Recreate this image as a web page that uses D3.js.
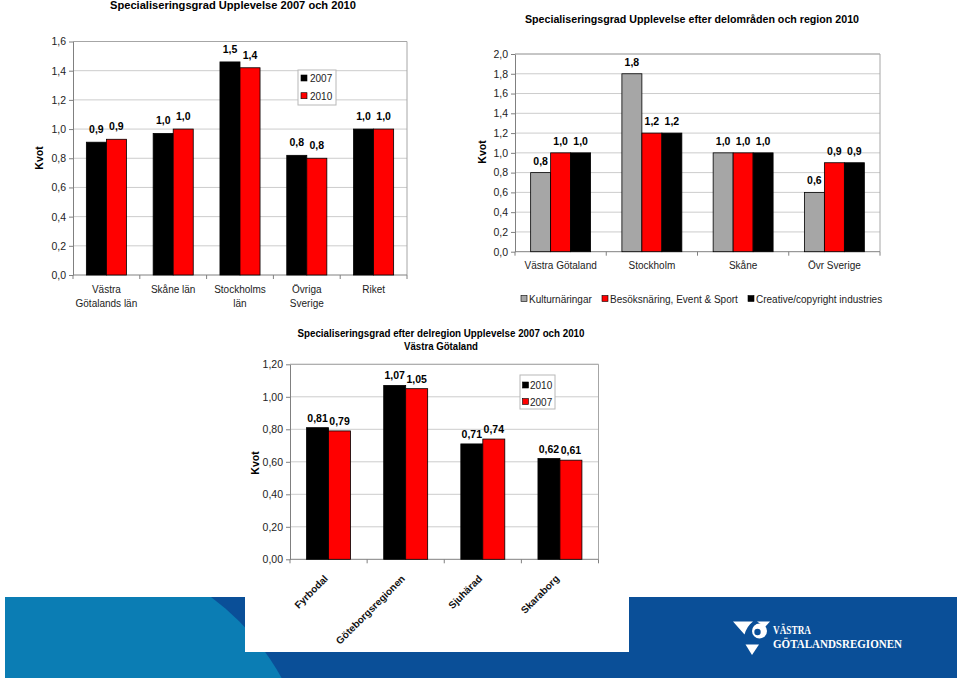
<!DOCTYPE html>
<html><head><meta charset="utf-8">
<script src="https://cdn.jsdelivr.net/npm/d3@7"></script>
<style>body{margin:0;background:#fff} svg{display:block;font-family:"Liberation Sans",Arial,sans-serif}</style>
</head><body><svg id="c" width="960" height="681"></svg>
<script>
// ---------- DATA ----------
const cats1 = ["Västra Götalands län", "Skåne län", "Stockholms län", "Övriga Sverige", "Riket"];
const catLines1 = [["Västra", "Götalands län"], ["Skåne län"], ["Stockholms", "län"], ["Övriga", "Sverige"], ["Riket"]];
const series1 = ["2007", "2010"];
const vals1_2007 = [0.91, 0.97, 1.46, 0.82, 1.00];
const vals1_2010 = [0.93, 1.00, 1.42, 0.80, 1.00];
const ticks1 = [0, 0.2, 0.4, 0.6, 0.8, 1.0, 1.2, 1.4, 1.6];

const cats2 = ["Västra Götaland", "Stockholm", "Skåne", "Övr Sverige"];
const series2 = ["Kulturnäringar", "Besöksnäring, Event & Sport", "Creative/copyright industries"];
const vals2_kultur = [0.8, 1.8, 1.0, 0.6];
const vals2_besok = [1.0, 1.2, 1.0, 0.9];
const vals2_creative = [1.0, 1.2, 1.0, 0.9];
const ticks2 = [0, 0.2, 0.4, 0.6, 0.8, 1.0, 1.2, 1.4, 1.6, 1.8, 2.0];

const cats3 = ["Fyrbodal", "Göteborgsregionen", "Sjuhärad", "Skaraborg"];
const series3 = ["2010", "2007"];
const vals3_2010 = [0.81, 1.07, 0.71, 0.62];
const vals3_2007 = [0.79, 1.05, 0.74, 0.61];
const ticks3 = [0, 0.2, 0.4, 0.6, 0.8, 1.0, 1.2];

const title1 = "Specialiseringsgrad Upplevelse 2007 och 2010";
const title2 = "Specialiseringsgrad Upplevelse efter delområden och region 2010";
const title3 = ["Specialiseringsgrad efter delregion Upplevelse 2007 och 2010", "Västra Götaland"];
const yTitle = "Kvot";

// ---------- DRAWING ----------
const FONT = '"Liberation Sans", Arial, sans-serif';
const svg = d3.select("#c");
const comma1 = v => d3.format(".1f")(v).replace(".", ",");
const comma2 = v => d3.format(".2f")(v).replace(".", ",");

// background band + logo
const band = svg.append("g");
band.append("clipPath").attr("id", "bandclip").append("rect").attr("x", 5).attr("y", 597).attr("width", 952).attr("height", 81);
band.append("rect").attr("x", 5).attr("y", 597).attr("width", 952).attr("height", 81).attr("fill", "#0a4f98");
band.append("circle").attr("cx", 60).attr("cy", 800).attr("r", 253).attr("fill", "#0b7db4").attr("clip-path", "url(#bandclip)");
band.append("rect").attr("x", 245).attr("y", 320).attr("width", 384).attr("height", 332).attr("fill", "#fff");

// logo
const logo = svg.append("g").attr("fill", "#fff");
logo.append("path").attr("d", "M733,621.5 L753,621.5 Q747,626 744.5,634.5 Z");
logo.append("path").attr("d", "M757,621.5 L770,621.5 L765,627 Z");
logo.append("circle").attr("cx", 759.5).attr("cy", 631).attr("r", 7.5);
logo.append("circle").attr("cx", 757.5).attr("cy", 632).attr("r", 3.2).attr("fill", "#0a4f98");
logo.append("path").attr("d", "M745.5,644.5 L759,644.5 L752,655 Z");
logo.append("text").attr("x", 773).attr("y", 634).attr("font-family", '"Liberation Serif", serif').attr("font-size", 11.5)
  .attr("font-weight", "bold").attr("textLength", 38).attr("lengthAdjust", "spacingAndGlyphs").text("VÄSTRA");
logo.append("text").attr("x", 773).attr("y", 648).attr("font-family", '"Liberation Serif", serif').attr("font-size", 11.5)
  .attr("font-weight", "bold").attr("textLength", 129).attr("lengthAdjust", "spacingAndGlyphs").text("GÖTALANDSREGIONEN");

function drawChart(o) {
  const g = svg.append("g");
  const x = d3.scaleBand().domain(o.cats).range([o.left, o.right]).paddingInner(o.pad).paddingOuter(o.pad / 2);
  const xs = d3.scaleBand().domain(o.series).range([0, x.bandwidth()]);
  const y = d3.scaleLinear().domain([0, o.ticks[o.ticks.length - 1]]).range([o.bottom, o.top]);

  g.append("g").selectAll("line").data(o.ticks.filter(t => t > 0)).join("line")
    .attr("x1", o.left).attr("x2", o.right).attr("y1", d => y(d)).attr("y2", d => y(d))
    .attr("stroke", "#cccccc");
  g.append("path").attr("d", `M${o.left},${o.top}H${o.right}V${o.bottom}`).attr("fill", "none").attr("stroke", "#a6a6a6");

  const ya = g.append("g").attr("transform", `translate(${o.left},0)`)
    .call(d3.axisLeft(y).tickValues(o.ticks).tickFormat(o.tfmt).tickSize(4).tickSizeOuter(0).tickPadding(3));
  ya.attr("font-family", FONT);
  ya.select(".domain").attr("stroke", "#808080");
  ya.selectAll(".tick line").attr("stroke", "#808080");
  ya.selectAll(".tick text").attr("font-size", 10.5).attr("fill", "#222");

  g.append("line").attr("x1", o.left).attr("x2", o.right).attr("y1", o.bottom).attr("y2", o.bottom).attr("stroke", "#808080");
  const bounds = o.cats.map(c => x(c) - x.step() * o.pad / 2).concat([o.right]);
  g.append("g").selectAll("line").data(bounds).join("line")
    .attr("x1", d => d).attr("x2", d => d).attr("y1", o.bottom).attr("y2", o.bottom + 4).attr("stroke", "#808080");

  o.series.forEach((s, i) => {
    const data = o.cats.map((c, j) => ({ c, v: o.values[i][j] }));
    g.append("g").selectAll("rect").data(data).join("rect")
      .attr("x", d => x(d.c) + xs(s)).attr("width", xs.bandwidth())
      .attr("y", d => y(d.v)).attr("height", d => y(0) - y(d.v))
      .attr("fill", o.colors[i]).attr("stroke", "#000").attr("stroke-width", 0.8);
    g.append("g").selectAll("text").data(data).join("text")
      .attr("x", d => x(d.c) + xs(s) + xs.bandwidth() / 2).attr("y", d => y(d.v) - o.labOff)
      .attr("text-anchor", "middle").attr("font-size", 10.5).attr("font-weight", "bold").attr("fill", "#000")
      .text(d => o.lfmt(d.v));
  });

  g.append("text").attr("transform", `translate(${o.kvotX},${o.kvotY}) rotate(-90)`)
    .attr("text-anchor", "middle").attr("font-size", 10.5).attr("font-weight", "bold").text(yTitle);
  return { g, x, y, xs };
}

// ---------- Chart 1 ----------
const c1 = drawChart({
  cats: cats1, series: series1, values: [vals1_2007, vals1_2010], colors: ["#000000", "#ff0000"],
  left: 73, right: 407, top: 41.5, bottom: 275, pad: 0.4, ticks: ticks1,
  tfmt: comma1, lfmt: comma1, labOff: 9, kvotX: 43, kvotY: 158
});
c1.g.append("g").selectAll("text").data(cats1).join("text")
  .attr("text-anchor", "middle").attr("font-size", 10).attr("fill", "#222")
  .each(function (c, i) {
    d3.select(this).selectAll("tspan").data(catLines1[i]).join("tspan")
      .attr("x", c1.x(c) + c1.x.bandwidth() / 2).attr("y", (d, k) => 275 + 18 + k * 13.5).text(d => d);
  });
svg.append("text").attr("x", 233).attr("y", 9).attr("text-anchor", "middle").attr("font-size", 11)
  .attr("font-weight", "bold").attr("textLength", 246).attr("lengthAdjust", "spacingAndGlyphs").text(title1);
// legend 1
const lg1 = svg.append("g");
lg1.append("rect").attr("x", 298).attr("y", 70).attr("width", 38).attr("height", 35).attr("fill", "#fff").attr("stroke", "#b8b8b8");
lg1.selectAll("g").data(series1).join("g").each(function (s, i) {
  const gg = d3.select(this);
  gg.append("rect").attr("x", 301).attr("y", 75 + i * 17.7).attr("width", 6).attr("height", 6)
    .attr("fill", ["#000000", "#ff0000"][i]).attr("stroke", "#000").attr("stroke-width", 0.6);
  gg.append("text").attr("x", 310).attr("y", 82 + i * 17.7).attr("font-size", 10).attr("fill", "#222").text(s);
});

// ---------- Chart 2 ----------
const c2 = drawChart({
  cats: cats2, series: series2, values: [vals2_kultur, vals2_besok, vals2_creative],
  colors: ["#a6a6a6", "#ff0000", "#000000"],
  left: 515, right: 880, top: 54, bottom: 251.7, pad: 0.343, ticks: ticks2,
  tfmt: comma1, lfmt: comma1, labOff: 8, kvotX: 486, kvotY: 152
});
c2.g.append("g").selectAll("text").data(cats2).join("text")
  .attr("x", c => c2.x(c) + c2.x.bandwidth() / 2).attr("y", 251.7 + 17.6)
  .attr("text-anchor", "middle").attr("font-size", 10).attr("fill", "#222").text(c => c);
svg.append("text").attr("x", 692).attr("y", 23).attr("text-anchor", "middle").attr("font-size", 11)
  .attr("font-weight", "bold").attr("textLength", 334).attr("lengthAdjust", "spacingAndGlyphs").text(title2);
const lg2x = [521, 602, 748];
const lg2 = svg.append("g");
series2.forEach((s, i) => {
  lg2.append("rect").attr("x", lg2x[i]).attr("y", 295.5).attr("width", 6).attr("height", 6)
    .attr("fill", ["#a6a6a6", "#ff0000", "#000000"][i]).attr("stroke", "#000").attr("stroke-width", 0.6);
  lg2.append("text").attr("x", lg2x[i] + 8).attr("y", 302.5).attr("font-size", 10).attr("fill", "#222").text(s);
});

// ---------- Chart 3 ----------
const c3 = drawChart({
  cats: cats3, series: series3, values: [vals3_2010, vals3_2007], colors: ["#000000", "#ff0000"],
  left: 290, right: 598.5, top: 364.3, bottom: 559.3, pad: 0.43, ticks: ticks3,
  tfmt: comma2, lfmt: comma2, labOff: 6, kvotX: 259, kvotY: 463
});
c3.g.append("g").selectAll("text").data(cats3).join("text")
  .attr("transform", c => `translate(${c3.x(c) + c3.x.bandwidth() / 2},${559.3 + 20}) rotate(-45)`)
  .attr("text-anchor", "end").attr("font-size", 10).attr("font-weight", "bold").attr("fill", "#111").text(c => c);
title3.forEach((t, i) => {
  svg.append("text").attr("x", 441).attr("y", 337 + i * 12.5).attr("text-anchor", "middle").attr("font-size", 11)
    .attr("font-weight", "bold").attr("textLength", i === 0 ? 287 : 74).attr("lengthAdjust", "spacingAndGlyphs").text(t);
});
const lg3 = svg.append("g");
lg3.append("rect").attr("x", 520).attr("y", 375).attr("width", 35).attr("height", 34).attr("fill", "#fff").attr("stroke", "#b8b8b8");
series3.forEach((s, i) => {
  lg3.append("rect").attr("x", 522.5).attr("y", 382 + i * 16.5).attr("width", 6).attr("height", 6)
    .attr("fill", ["#000000", "#ff0000"][i]).attr("stroke", "#000").attr("stroke-width", 0.6);
  lg3.append("text").attr("x", 530).attr("y", 389 + i * 16.5).attr("font-size", 10).attr("fill", "#222").text(s);
});
</script></body></html>
